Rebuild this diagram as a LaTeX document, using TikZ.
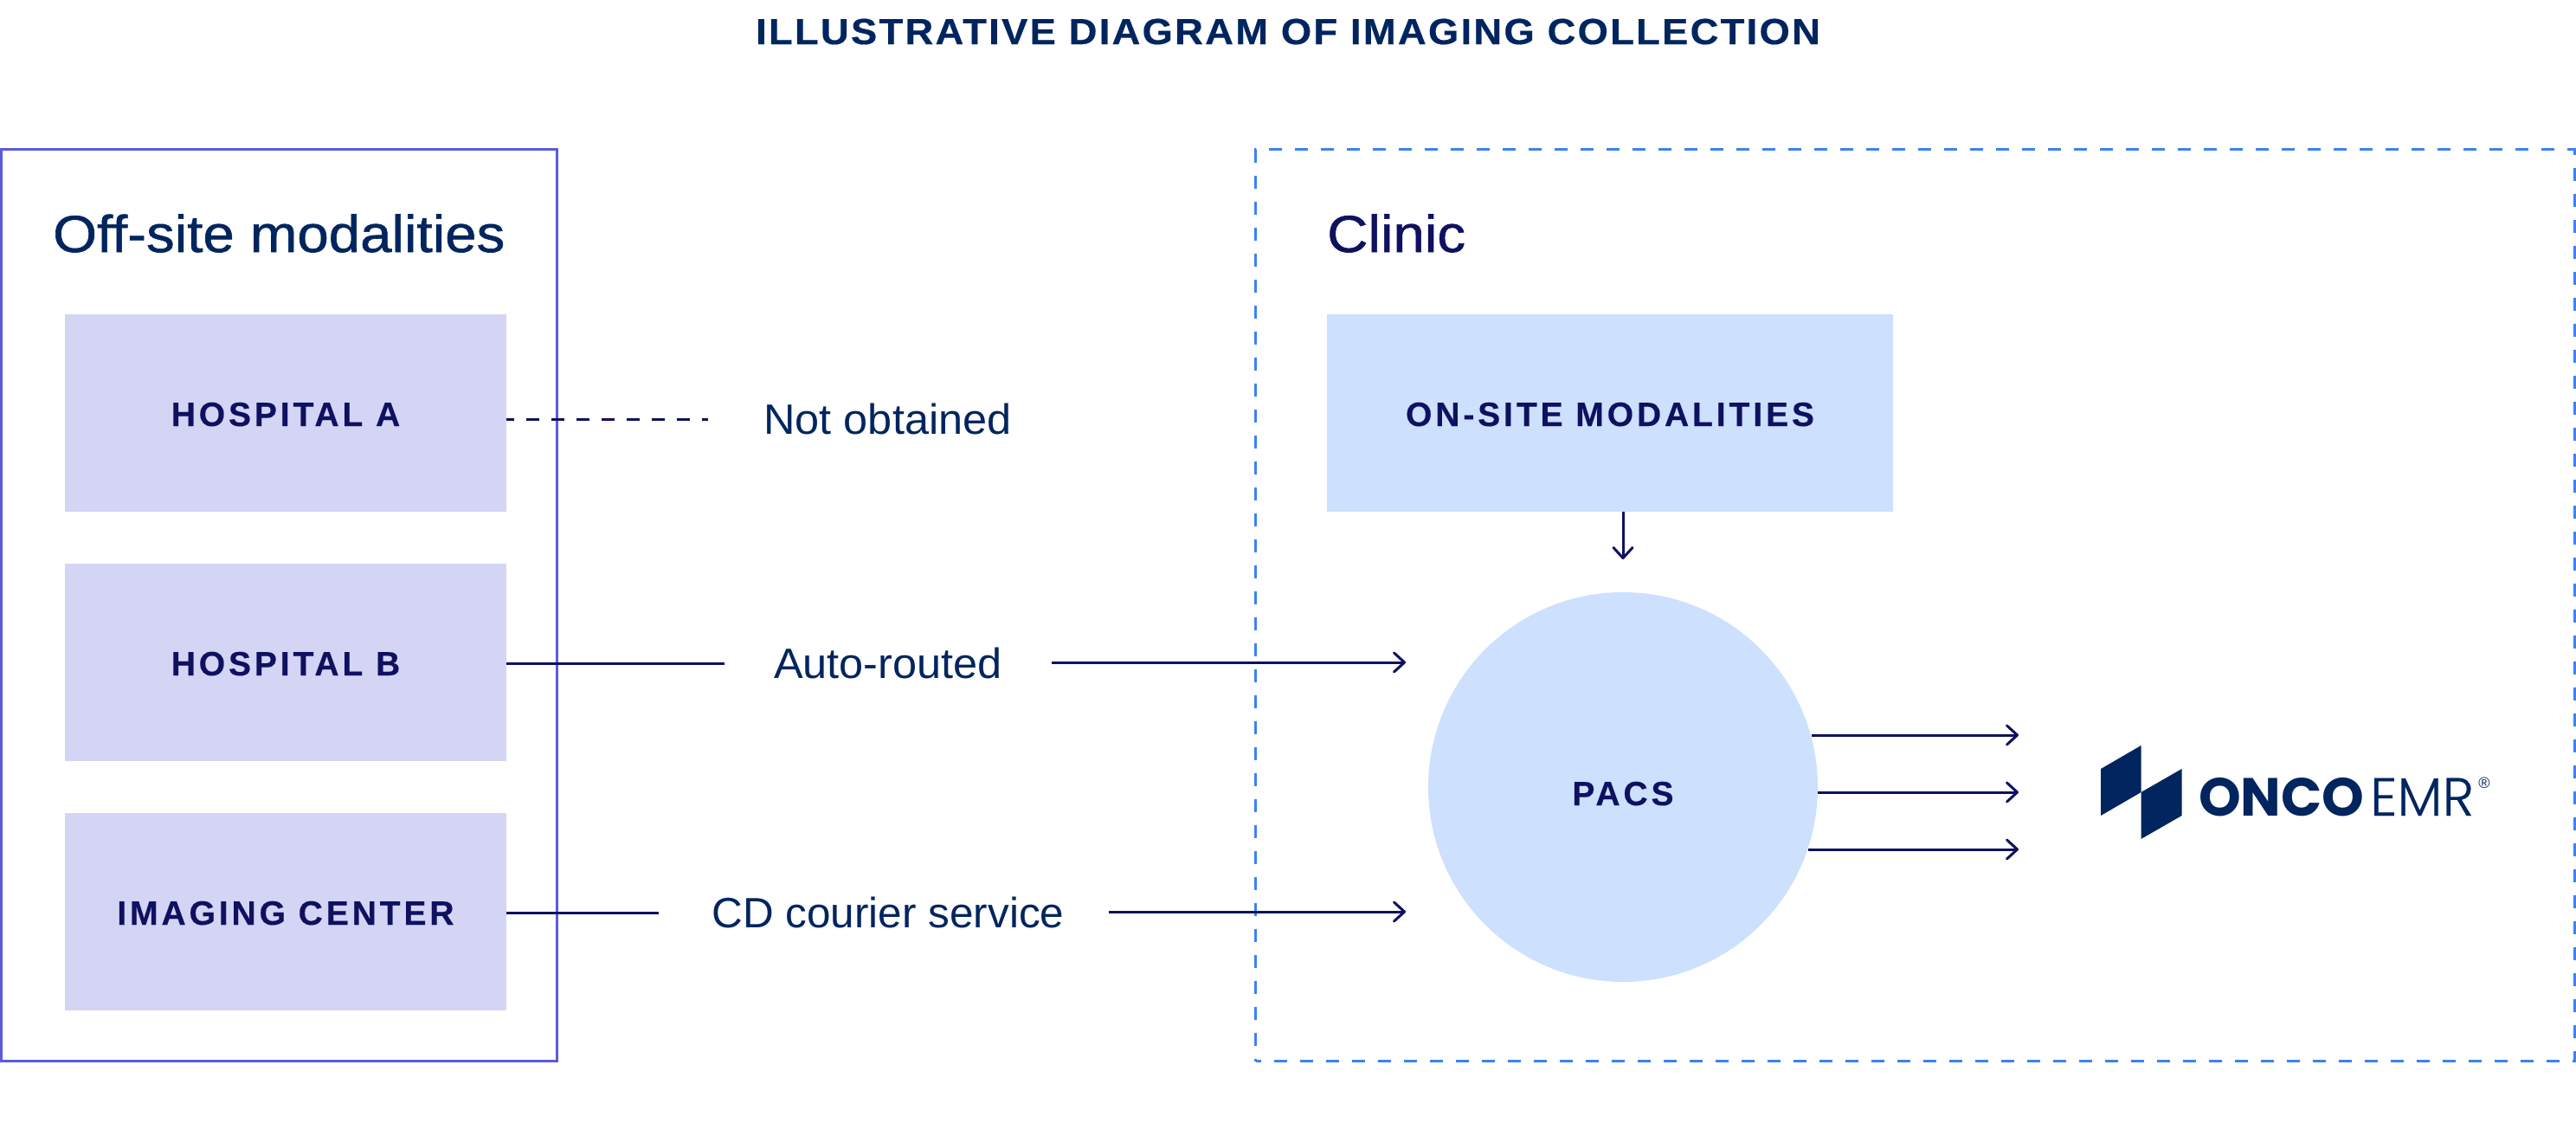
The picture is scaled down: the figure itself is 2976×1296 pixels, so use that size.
\documentclass[tikz,border=0pt]{standalone}
\usepackage{fontspec}
\usetikzlibrary{arrows.meta}
\setmainfont{Liberation Sans}
\newfontfamily\titlefont[FakeStretch=1.08,LetterSpace=5.4,FakeBold=0.4]{Liberation Sans Bold}
\newfontfamily\boxfont[LetterSpace=10,FakeBold=0.3]{Liberation Sans Bold}
\newfontfamily\headfont[FakeStretch=1.09,FakeBold=1]{Liberation Sans}
\newfontfamily\labelfont[FakeStretch=1.03]{Liberation Sans}
\newfontfamily\labelfontnarrow[FakeStretch=1.01]{Liberation Sans}
\newfontfamily\logofont{Poppins}
\newfontfamily\logolight[FakeBold=0.3]{Poppins Light}
\definecolor{navy}{HTML}{00255F}
\definecolor{ink}{HTML}{0F1160}
\definecolor{frame}{HTML}{5B5BDC}
\definecolor{dashblue}{HTML}{3B82F6}
\definecolor{lilac}{HTML}{D4D4F5}
\definecolor{sky}{HTML}{CDE0FD}
\tikzset{
  x=1pt,y=-1pt,
  lilacbox/.style={fill=lilac,draw=none,minimum width=510pt,minimum height=228pt,inner sep=0pt,text=ink,font=\boxfont\fontsize{39}{39}\selectfont,text height=30pt,text depth=0pt},
  skybox/.style={fill=sky,draw=none,inner sep=0pt,text=ink,font=\boxfont\fontsize{39}{39}\selectfont,text height=30pt,text depth=0pt},
  heading/.style={anchor=base west,inner sep=0pt,font=\headfont\fontsize{60}{60}\selectfont},
  routelabel/.style={anchor=base,inner ysep=0pt,text=navy,font=\labelfont\fontsize{49}{49}\selectfont},
  link/.style={draw=ink,line width=3pt},
  arrowlink/.style={link,-{Straight Barb[length=12pt,width=22pt,line width=3pt,round]}},
}
\begin{document}
\begin{tikzpicture}
\useasboundingbox (0,0) rectangle (2976,1296);
\node[inner sep=0pt,text=navy,font=\titlefont\fontsize{42}{42}\selectfont,text height=30pt,text depth=0pt] (title) at (1488,36) {ILLUSTRATIVE DIAGRAM OF IMAGING COLLECTION};
\node[draw=frame,line width=3pt,minimum width=642pt,minimum height=1053pt,inner sep=0pt] (offsite) at (322.5,699) {};
\node[draw=dashblue,line width=3pt,dash pattern=on 15pt off 15pt,dash phase=9pt,minimum width=1524pt,minimum height=1053pt,inner sep=0pt] (clinic) at (2212.5,699) {};
\node[heading,text=navy] (offhead) at (61,291) {Off-site modalities};
\node[heading,text=ink] (clinichead) at (1533,291) {Clinic};
\node[lilacbox] (hospa) at (330,477) {HOSPITAL A};
\node[lilacbox] (hospb) at (330,765) {HOSPITAL B};
\node[lilacbox] (imaging) at (330,1053) {IMAGING CENTER};
\node[skybox,minimum width=654pt,minimum height=228pt] (onsite) at (1860,477) {ON-SITE MODALITIES};
\node[skybox,circle,minimum size=450pt,text height=42pt] (pacs) at (1875,909) {PACS};
\node[routelabel,inner xsep=64pt] (notobt) at (1025.5,501) {Not obtained};
\node[routelabel,inner xsep=57pt] (auto) at (1026,783) {Auto-routed};
\node[routelabel,inner xsep=51pt,font=\labelfontnarrow\fontsize{49}{49}\selectfont] (cd) at (1021,1071) {\hspace*{10pt}CD courier service};
\coordinate (autoend) at (1624,765);
\coordinate (cdend) at (1624,1053);
\coordinate (onsiteend) at (1875,646);
\coordinate (out1) at (2332,849);
\coordinate (out2) at (2332,915);
\coordinate (out3) at (2332,981);
\draw[link,dash pattern=on 15pt off 14pt,dash phase=6pt] (hospa.east |- 0,484) -- (notobt.west |- 0,484);
\draw[link] (hospb.east |- 0,766) -- (auto.west |- 0,766);
\draw[arrowlink] (auto.east |- autoend) -- (autoend);
\draw[link] (imaging.east |- 0,1054) -- (cd.west |- 0,1054);
\draw[arrowlink] (cd.east |- cdend) -- (cdend);
\draw[arrowlink] (onsite.south -| onsiteend) -- (onsiteend);
\draw[arrowlink] (pacs.15.4 |- out1) -- (out1);
\draw[arrowlink] (pacs.-1.5 |- out2) -- (out2);
\draw[arrowlink] (pacs.-18.6 |- out3) -- (out3);
\fill[navy] (2427,888) -- (2473.5,861) -- (2473.5,915) -- (2427,942) -- cycle;
\fill[navy] (2473.5,915) -- (2520.5,888) -- (2520.5,942) -- (2473.5,969) -- cycle;
\node[anchor=base west,inner sep=0pt,text=navy,font=\logofont\bfseries\fontsize{62}{62}\selectfont] (onco) at (2540,942) {ONCO};
\node[anchor=base west,inner sep=0pt,text=navy,font=\logolight\fontsize{62}{62}\selectfont] (emr) at (2738,942) {EMR};
\node[anchor=center,inner sep=0pt,text=navy,font=\fontsize{18}{18}\selectfont] (reg) at (2870,904) {®};
\end{tikzpicture}
\end{document}
